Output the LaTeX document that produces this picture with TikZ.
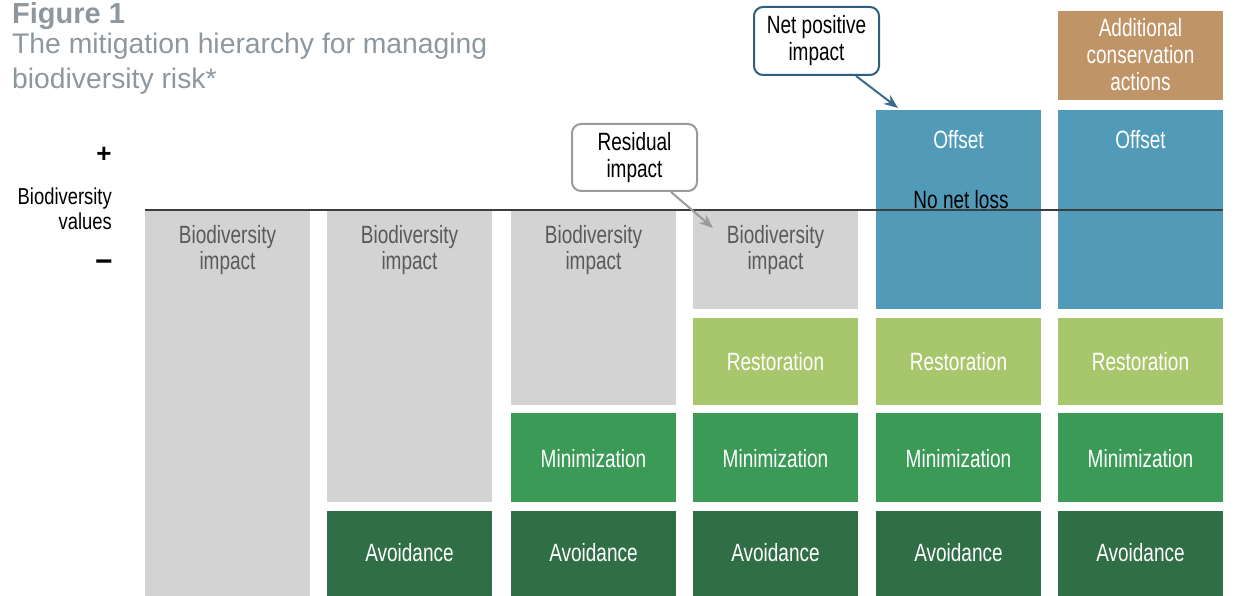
\documentclass[tikz,border=0pt]{standalone}
\usepackage{fontspec}
\setmainfont{Liberation Sans}
\newfontfamily\cond[FakeStretch=0.76]{Liberation Sans}
\newfontfamily\condv[FakeStretch=0.8]{Liberation Sans}
\usetikzlibrary{arrows.meta}
\definecolor{impgray}{HTML}{D3D3D3}
\definecolor{txtgray}{HTML}{5A5A5A}
\definecolor{restc}{HTML}{A8C66C}
\definecolor{minc}{HTML}{3A9A56}
\definecolor{avoc}{HTML}{306E45}
\definecolor{offc}{HTML}{519BB8}
\definecolor{addc}{HTML}{BF9466}
\definecolor{titlec}{HTML}{8E979D}
\definecolor{calgray}{HTML}{9A9A9A}
\definecolor{calblue}{HTML}{2F5F80}
\definecolor{arrblue}{HTML}{3B6B8C}
\definecolor{linec}{HTML}{3D3D3D}
\begin{document}
\begin{tikzpicture}[x=1pt,y=-1pt,
  blk/.style={anchor=north west, inner sep=0pt, outer sep=0pt, minimum width=165pt, draw=none},
  lbl/.style={font=\cond\fontsize{25}{27}\selectfont, align=center, anchor=base, inner sep=0pt},
  wl/.style={lbl, text=white},
  gl/.style={lbl, text=txtgray},
  callout/.style={draw, line width=2pt, rounded corners=9pt, fill=white, minimum width=125pt,
    minimum height=67pt, inner sep=0pt, align=center, font=\cond\fontsize{25}{27}\selectfont},
  ttl/.style={anchor=base west, inner sep=0pt, text=titlec, font=\fontsize{28.3}{34}\selectfont}
]
\useasboundingbox (0,0) rectangle (1259,596);

% title
\node[ttl, font=\bfseries\fontsize{29}{34}\selectfont] (fig) at (12,24) {Figure 1};
\node[ttl] (t1) at (12,54) {The mitigation hierarchy for managing};
\node[ttl] (t2) at (12,89) {biodiversity risk*};

% axis labels
\node[font=\bfseries\fontsize{26}{26}\selectfont, inner sep=0pt] (plus) at (104,155) {+};
\node[font=\bfseries\fontsize{30}{30}\selectfont, inner sep=0pt] (minus) at (104,266) {−};
\node[font=\condv\fontsize{23}{25}\selectfont, align=right, anchor=base east, inner sep=0pt] (bv) at (112,230) {Biodiversity\\values};

% column 1
\node[blk, fill=impgray, minimum height=385pt] (g1) at (145,211) {};
\node[gl] (g1t) at (227.5,270) {Biodiversity\\impact};
% column 2
\node[blk, fill=impgray, minimum height=291pt] (g2) at (327,211) {};
\node[gl] (g2t) at (409.5,270) {Biodiversity\\impact};
\node[blk, fill=avoc, minimum height=85pt] (a2) at (327,511) {};
\node[wl] (a2t) at (409.5,561) {Avoidance};
% column 3
\node[blk, fill=impgray, minimum height=194pt] (g3) at (511,211) {};
\node[gl] (g3t) at (593.5,270) {Biodiversity\\impact};
\node[blk, fill=minc, minimum height=89pt] (m3) at (511,413) {};
\node[wl] (m3t) at (593.5,467) {Minimization};
\node[blk, fill=avoc, minimum height=85pt] (a3) at (511,511) {};
\node[wl] (a3t) at (593.5,561) {Avoidance};
% column 4
\node[blk, fill=impgray, minimum height=98pt] (g4) at (693,211) {};
\node[gl] (g4t) at (775.5,270) {Biodiversity\\impact};
\node[blk, fill=restc, minimum height=87pt] (r4) at (693,318) {};
\node[wl] (r4t) at (775.5,370) {Restoration};
\node[blk, fill=minc, minimum height=89pt] (m4) at (693,413) {};
\node[wl] (m4t) at (775.5,467) {Minimization};
\node[blk, fill=avoc, minimum height=85pt] (a4) at (693,511) {};
\node[wl] (a4t) at (775.5,561) {Avoidance};
% column 5
\node[blk, fill=offc, minimum height=199pt] (o5) at (876,110) {};
\node[wl] (o5t) at (958.5,149) {Offset};
\node[blk, fill=restc, minimum height=87pt] (r5) at (876,318) {};
\node[wl] (r5t) at (958.5,370) {Restoration};
\node[blk, fill=minc, minimum height=89pt] (m5) at (876,413) {};
\node[wl] (m5t) at (958.5,467) {Minimization};
\node[blk, fill=avoc, minimum height=85pt] (a5) at (876,511) {};
\node[wl] (a5t) at (958.5,561) {Avoidance};
% column 6
\node[blk, fill=addc, minimum height=89pt] (ad6) at (1058,11) {};
\node[wl] (ad6t) at (1140.5,91) {Additional\\conservation\\actions};
\node[blk, fill=offc, minimum height=199pt] (o6) at (1058,110) {};
\node[wl] (o6t) at (1140.5,149) {Offset};
\node[blk, fill=restc, minimum height=87pt] (r6) at (1058,318) {};
\node[wl] (r6t) at (1140.5,370) {Restoration};
\node[blk, fill=minc, minimum height=89pt] (m6) at (1058,413) {};
\node[wl] (m6t) at (1140.5,467) {Minimization};
\node[blk, fill=avoc, minimum height=85pt] (a6) at (1058,511) {};
\node[wl] (a6t) at (1140.5,561) {Avoidance};

% baseline of biodiversity values
\coordinate (bl) at (145,210);
\coordinate (br) at (1223,210);
\draw[linec, line width=1.6pt] (bl) -- (br);
\node[lbl, text=black] (nnl) at (961,209) {No net loss};

% callouts
\node[callout, draw=calgray] (res) at (634.5,157.5) {Residual\\impact};
\coordinate (restip) at (713,228);
\draw[calgray, line width=2pt, -{Stealth[length=14pt,width=11pt]}] ([xshift=-27pt]res.south east) -- (restip);

\node[callout, draw=calblue, minimum height=68pt] (net) at (816.5,41) {Net positive\\impact};
\coordinate (nettip) at (898,108);
\draw[arrblue, line width=2pt, -{Stealth[length=14pt,width=11pt]}] ([xshift=-24pt]net.south east) -- (nettip);
\end{tikzpicture}
\end{document}
